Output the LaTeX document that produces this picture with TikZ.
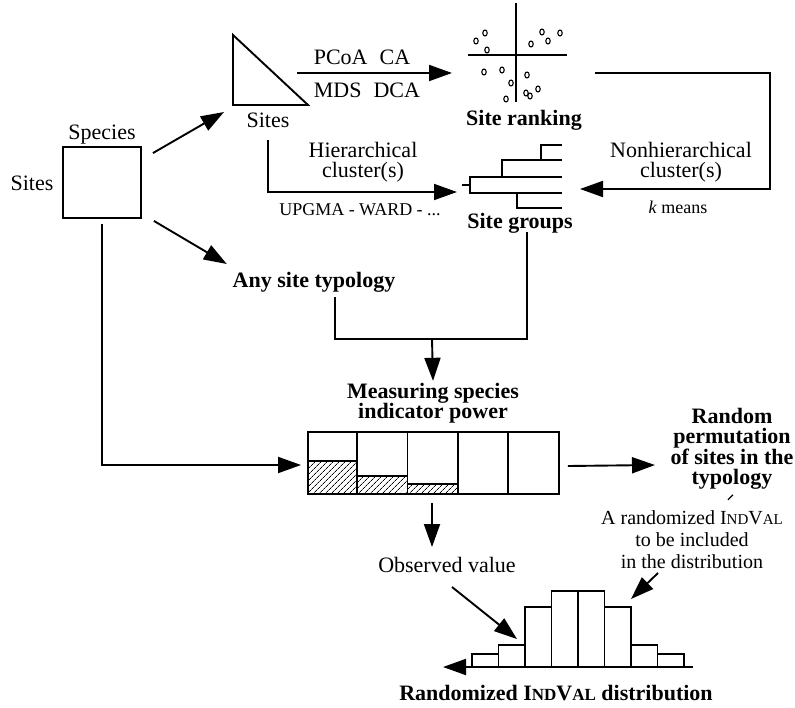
\documentclass[tikz,border=0pt]{standalone}
\usepackage{fontspec}
\setmainfont{Liberation Serif}
\usetikzlibrary{arrows.meta,patterns.meta}
\newcommand{\indval}[1]{I{\fontsize{#1}{#1}\selectfont ND}V{\fontsize{#1}{#1}\selectfont AL}}

\begin{document}
\begin{tikzpicture}[x=1pt,y=-1pt,line width=1.9pt,
    txt/.style ={font=\fontsize{22}{20}\selectfont, align=center, inner sep=1pt},
    bld/.style ={font=\fontsize{22}{20.5}\selectfont\bfseries, align=center, inner sep=1pt},
    sml/.style ={font=\fontsize{18}{18}\selectfont, inner sep=1pt},
    arr/.style ={-{Triangle[length=23pt,width=16pt]}},
    dot/.style ={line width=1.1pt}]
   \useasboundingbox (0,0) rectangle (795,707);
   \node[draw, inner sep=0pt, minimum width=78pt, minimum height=71pt] (M) at (102,182.5) {};
   \node[txt] (Sp) at (102,135) {Species};
   \node[txt] (Sr) at (32,183) {Sites};
   \coordinate (T1) at (233,35);
   \coordinate (T2) at (233,105);
   \coordinate (T3) at (308,105);
   \draw (T1) -- (T2) -- (T3) -- cycle;
   \node[txt] (St) at (268,120) {Sites};
   \node[txt] (PC) at (362,57) {PCoA\hspace{12pt}CA};
   \node[txt] (MD) at (367,90) {MDS\hspace{12pt}DCA};
   \node[bld] (SR) at (524,120) {Site ranking};
   \node[txt] (HC) at (363,162) {Hierarchical\\cluster(s)};
   \node[sml] (UP) at (360,210) {UPGMA - WARD - ...};
   \node[txt] (NH) at (681,162) {Nonhierarchical\\cluster(s)};
   \node[sml] (KM) at (678,207) {\textit{k} means};
   \node[bld] (SG) at (520,223) {Site groups};
   \node[bld] (AT) at (314,282) {Any site typology};
   \node[bld] (MS) at (433,403) {Measuring species\\indicator power};
   \node[draw, inner sep=0pt, minimum width=251pt, minimum height=62pt] (B) at (433.5,463) {};
   \node[bld] (RP) at (732,449) {Random\\permutation\\of sites in the\\typology};
   \node[font=\fontsize{20}{22}\selectfont, align=center, inner sep=1pt] (AR) at (692,540)
      {A randomized \indval{15}\\to be included\\in the distribution};
   \node[txt] (OV) at (447,565) {Observed value};
   \node[bld] (RD) at (556,693) {Randomized \indval{17} distribution};
   \coordinate (S0) at (516,55);
   \coordinate (D0) at (470,185);
   \coordinate (h0) at (268,140);
   \coordinate (h1) at (457,192);
   \coordinate (n0) at (595,73);
   \coordinate (n1) at (580,189);
   \coordinate (p0) at (297,73);
   \coordinate (p1) at (452,73);
   \coordinate (J) at (432,339);
   \coordinate (r1) at (655,465);
   \coordinate (o0) at (432,503);
   \coordinate (o1) at (432,547);
   \coordinate (q0) at (452,587);
   \coordinate (q1) at (517,639);
   \coordinate (w0) at (658,573);
   \coordinate (w1) at (631,599);
   \coordinate (H0) at (472,667);
   \draw[line width=1.3pt] ([xshift=-48pt]S0) -- ([xshift=51pt]S0);
   \draw[line width=1.3pt] ([yshift=52pt]S0) -- ([yshift=-47pt]S0);
   \foreach \x/\y in {476/41,485/33,487/50,531/44,542/32,548/41,560/33,484/72,
                      502/70,511/83,506/99,527/75,526/93,530/96,538/89}
     \draw[dot] (\x,\y) ellipse [x radius=2.2pt, y radius=3pt];
   \draw (562,145) -- (541,145) -- (541,160);
   \draw (562,160) -- (502,160) -- (502,177);
   \draw (562,177) -- (D0 |- 0,177) -- (D0 |- 0,193) -- (562,193);
   \draw (517,193) -- (517,208) -- (562,208);
   \draw ([xshift=-8pt]D0) -- (D0);
   \foreach \i in {1,...,4}
     \draw (B.north west) ++(50.2*\i,0) -- ++(0,62);
   \foreach \h [count=\i from 0] in {34,19,11} {
     \fill[pattern={Lines[angle=45,distance=4pt,line width=0.7pt]}]
        (B.south west) ++(50.2*\i,0) rectangle ++(50.2,-\h);
     \draw (B.south west) ++(50.2*\i,-\h) -- ++(50.2,0);
   }
   \foreach \h [count=\i from 0] in {13,22,60,76,76,60,22,13}
     \draw (H0) ++(26.5*\i,0) rectangle ++(26.5,-\h);
   \draw[arr] ([shift={(11,7)}]M.north east) to ([shift={(-9,7)}]T2);
   \draw[arr] ([shift={(12,2)}]M.south east) to ([shift={(-4,-6)}]AT.north west);
   \draw[arr] (p0) to (p1);
   \draw[arr] (h0) |- (h1);
   \draw[arr] (n0) -- ++(175,0) |- (n1);
   \draw ([xshift=21pt,yshift=-3pt]AT.south) |- (J) -| ([xshift=7pt,yshift=3pt]SG.south);
   \draw[arr] (J) to (MS.north);
   \draw[arr] ([yshift=-5pt]M.south) |- ([xshift=-6pt,yshift=-2pt]B.west);
   \draw[arr] ([xshift=8pt,yshift=-3pt]B.east) to (r1);
   \draw[line width=1.3pt] ([shift={(-4,8)}]RP.south) to ([shift={(1,3)}]RP.south);
   \draw[arr] (o0) to (o1);
   \draw[arr] (q0) to (q1);
   \draw[arr] (w0) to (w1);
   \draw[arr] ([xshift=221pt]H0) to ([xshift=-29pt]H0);
 \end{tikzpicture}
\end{document}
